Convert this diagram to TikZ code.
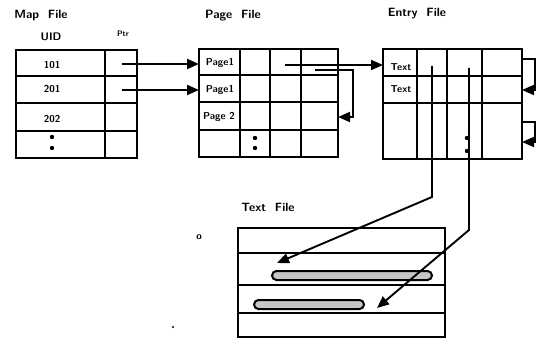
\documentclass[tikz,border=0pt]{standalone}
\usetikzlibrary{arrows.meta}
\tikzset{
  lbl/.style={font=\sffamily\bfseries\fontsize{12}{14}\selectfont},
  cell/.style={font=\sffamily\bfseries\fontsize{10}{12}\selectfont},
  grid/.style={line width=2.2pt},
  link/.style={line width=1.9pt,-{Triangle[length=12pt,width=10pt]}},
  blob/.style={line width=2pt,rounded corners=4.5pt,fill=gray!45}
}
\begin{document}
\begin{tikzpicture}[x=1pt,y=-1pt]
    \useasboundingbox (0,0) rectangle (538,342);
    \node[lbl] (maptitle) at (41,16) {Map\ \ File};
    \node[lbl,font=\sffamily\bfseries\fontsize{11}{13}\selectfont] (uid) at (51,37) {UID};
    \node[cell,font=\sffamily\bfseries\fontsize{8}{10}\selectfont] (ptr) at (123,34) {Ptr};
    \node[lbl] (pagetitle) at (233,16) {Page\ \ File};
    \node[lbl] (entrytitle) at (417,14) {Entry\ \ File};
    \node[lbl] (texttitle) at (268,207) {Text\ \ File};
    \draw[grid] (16,50) rectangle (137,158);
    \draw[grid] (105,50) -- (105,158);
    \foreach \y in {76,103,131} \draw[grid] (16,\y) -- (137,\y);
    \node[cell] (uidA) at (52,65) {101};
    \node[cell] (uidB) at (52,89) {201};
    \node[cell] (uidC) at (52,119) {202};
    \fill (52,137) circle (2.2) (52,148) circle (2.2);
    \draw[grid] (199,49) rectangle (338,157);
    \foreach \x in {240,270,301} \draw[grid] (\x,49) -- (\x,157);
    \foreach \y in {75,102,130} \draw[grid] (199,\y) -- (338,\y);
    \node[cell] (pageA) at (220,63) {Page1};
    \node[cell] (pageB) at (220,90) {Page1};
    \node[cell] (pageC) at (219,117) {Page 2};
    \fill (255,138) circle (2.2) (255,148) circle (2.2);
    \draw[grid] (383,49) rectangle (522,159);
    \foreach \x in {417,447,482} \draw[grid] (\x,49) -- (\x,159);
    \foreach \y in {76,103} \draw[grid] (383,\y) -- (522,\y);
    \node[cell] (entA) at (401,67) {Text};
    \node[cell] (entB) at (401,89) {Text};
    \fill (467,138) circle (2.2) (467,151) circle (2.2);
    \draw[grid] (238,228) rectangle (445,337);
    \foreach \y in {253,285,313} \draw[grid] (238,\y) -- (445,\y);
    \draw[blob] (272,271) rectangle (432,280);
    \draw[blob] (254,300) rectangle (364,309);
    \node[cell] (stray) at (199,237) {o};
    \fill (173,327) circle (1.2);
    \coordinate (ptrA) at (122,64); \coordinate (inA) at (199,64);
    \coordinate (ptrB) at (122,90); \coordinate (inB) at (199,90);
    \coordinate (pgPtr) at (285,65); \coordinate (inEnt) at (383,65);
    \coordinate (pgNext) at (315,70); \coordinate (pgBack) at (338,117);
    \coordinate (enNextA) at (522,59); \coordinate (enBackA) at (522,90);
    \coordinate (enNextB) at (522,122); \coordinate (enBackB) at (522,142);
    \coordinate (txtPtrA) at (432,66); \coordinate (txtInA) at (277,263);
    \coordinate (txtPtrB) at (469,68); \coordinate (txtInB) at (377,308);
    \draw[link] (ptrA) -- (inA);
    \draw[link] (ptrB) -- (inB);
    \draw[link] (pgPtr) -- (inEnt);
    \draw[link] (pgNext) -- (353,70) -- (353,117) -- (pgBack);
    \draw[link] (enNextA) -- (535,59) -- (535,90) -- (enBackA);
    \draw[link] (enNextB) -- (535,122) -- (535,142) -- (enBackB);
    \draw[link] (txtPtrA) -- (432,197) -- (txtInA);
    \draw[link] (txtPtrB) -- (469,230) -- (txtInB);
\end{tikzpicture}
\end{document}
